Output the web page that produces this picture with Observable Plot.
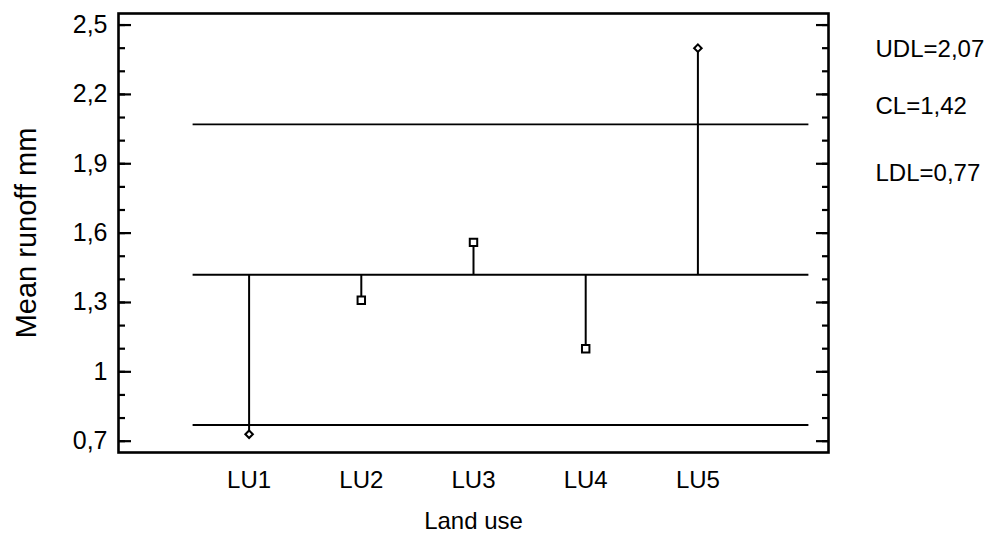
<!DOCTYPE html>
<html>
<head>
<meta charset="utf-8">
<script src="https://cdn.jsdelivr.net/npm/d3@7"></script>
<script src="https://cdn.jsdelivr.net/npm/@observablehq/plot@0.6"></script>
<style>
  html, body { margin: 0; padding: 0; background: #fff; }
</style>
</head>
<body>
<div id="chart"></div>
<script>
// Mean runoff by land use, with centre line and decision limits
const categories = ["LU1", "LU2", "LU3", "LU4", "LU5"];
const meanRunoff = [0.73, 1.31, 1.56, 1.10, 2.40];
const limitNames = ["UDL", "CL", "LDL"];
const limitValues = [2.07, 1.42, 0.77];
const yTickValues = [0.7, 1, 1.3, 1.6, 1.9, 2.2, 2.5];
const yMinorTickValues = [0.7, 0.8, 0.9, 1, 1.1, 1.2, 1.3, 1.4, 1.5, 1.6, 1.7, 1.8, 1.9, 2, 2.1, 2.2, 2.3, 2.4, 2.5];
const yLabel = "Mean runoff mm";
const xLabel = "Land use";

const fmt = v => String(v).replace(".", ",");

const W = 1000, H = 535;
const margin = {top: 13, right: 172, bottom: 83, left: 118};
const frameW = W - margin.left - margin.right;

const center = limitValues[limitNames.indexOf("CL")];
const upper = limitValues[limitNames.indexOf("UDL")];
const lower = limitValues[limitNames.indexOf("LDL")];

const points = categories.map((c, i) => ({cat: c, value: meanRunoff[i]}));
const outside = d => d.value > upper || d.value < lower;
const limits = limitNames.map((n, i) => ({
  name: n, value: limitValues[i], from: categories[0], to: categories[categories.length - 1]
}));

const ink = "#000";
const tickMark = (ticks, opts) => Plot.tickY(ticks, {y: d => d, stroke: ink, strokeWidth: 2.2, ...opts});

const chart = Plot.plot({
  width: W,
  height: H,
  marginTop: margin.top,
  marginRight: margin.right,
  marginBottom: margin.bottom,
  marginLeft: margin.left,
  style: {fontFamily: "'Liberation Sans', Arial, sans-serif", fontSize: "24px", color: ink, background: "#fff"},
  x: {type: "point", domain: categories, padding: 1.164, round: false},
  y: {domain: [0.651, 2.55]},
  marks: [
    // decision limits and centre line
    Plot.ruleY(limits, {y: "value", x1: "from", x2: "to", insetLeft: -56, insetRight: -111, stroke: ink, strokeWidth: 1.8}),
    // stems from the centre line
    Plot.ruleX(points, {x: "cat", y1: center, y2: "value", stroke: ink, strokeWidth: 2}),
    Plot.dot(points.filter(d => !outside(d)), {x: "cat", y: "value", symbol: "square", r: 4.2, stroke: ink, strokeWidth: 2, fill: "#fff"}),
    Plot.dot(points.filter(outside), {x: "cat", y: "value", symbol: "diamond2", r: 3.4, stroke: ink, strokeWidth: 2, fill: "#fff"}),
    // inward ticks on both vertical sides
    tickMark(yMinorTickValues, {insetRight: frameW - 7}),
    tickMark(yTickValues, {insetRight: frameW - 13}),
    tickMark(yMinorTickValues, {insetLeft: frameW - 6}),
    tickMark(yTickValues, {insetLeft: frameW - 12}),
    Plot.frame({stroke: ink, strokeWidth: 2.6}),
    Plot.axisY(yTickValues, {tickSize: 0, tickPadding: 11, tickFormat: fmt, label: null, fill: ink, fontSize: 25}),
    Plot.axisX({tickSize: 0, tickPadding: 18, label: null, fill: ink}),
    // axis titles
    Plot.text([yLabel], {frameAnchor: "left", dx: -83, rotate: -90, textAnchor: "middle", lineAnchor: "bottom", text: d => d, fontSize: 29, fill: ink}),
    Plot.text([xLabel], {frameAnchor: "bottom", dy: 76, textAnchor: "middle", lineAnchor: "bottom", text: d => d, fill: ink}),
    // limit values at the right
    ...limits.map((d, i) => Plot.text([d], {
      frameAnchor: "top-right", dx: 47, dy: [36.2, 92.9, 159.6][i],
      textAnchor: "start", lineAnchor: "middle",
      text: e => `${e.name}=${fmt(e.value)}`, fill: ink
    }))
  ]
});

document.getElementById("chart").appendChild(chart);
</script>
</body>
</html>
